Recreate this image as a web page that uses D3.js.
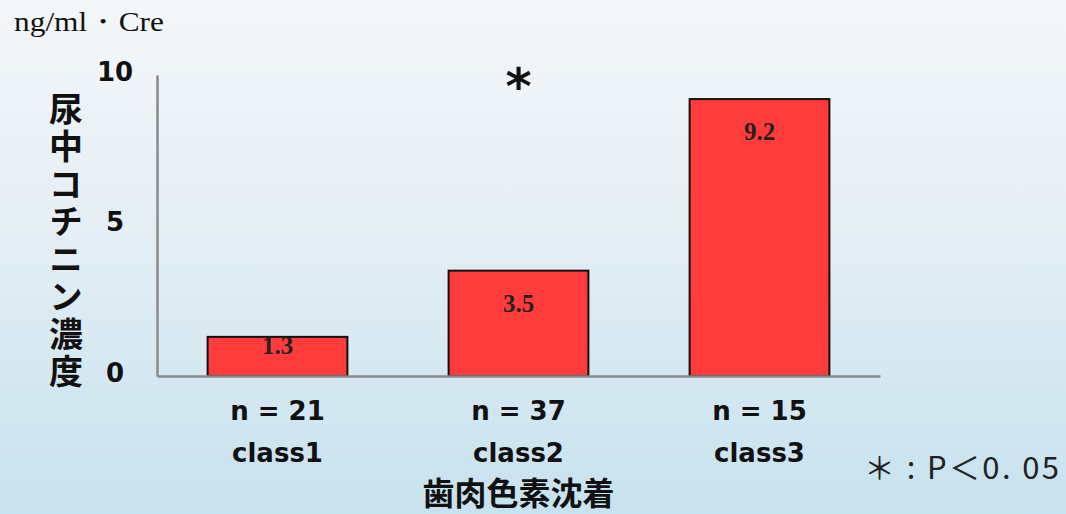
<!DOCTYPE html>
<html>
<head>
<meta charset="utf-8">
<script src="https://cdn.jsdelivr.net/npm/d3@7"></script>
<style>
  html, body { margin: 0; padding: 0; }
  body { width: 1066px; height: 514px; overflow: hidden; }
</style>
</head>
<body>
<div id="chart"></div>
<script>
const width = 1066;
const height = 514;

// data
const categories = ["class1", "class2", "class3"];
const sampleSizes = ["n = 21", "n = 37", "n = 15"];
const values = [1.3, 3.5, 9.2];
const valueLabels = ["1.3", "3.5", "9.2"];
const yTicks = [0, 5, 10];

const yTitle = "尿中コチニン濃度";
const xTitle = "歯肉色素沈着";
const unitLabel = "ng/ml・Cre";
const noteLabel = "＊ : P＜0. 05";

const margin = { top: 75, left: 157, bottom: 138, right: 186 };

const svg = d3.select("#chart").append("svg")
    .attr("width", width)
    .attr("height", height);

// background gradient
const grad = svg.append("defs").append("linearGradient")
    .attr("id", "bg")
    .attr("x1", 0).attr("y1", 0).attr("x2", 0).attr("y2", 1);
grad.append("stop").attr("offset", "0%").attr("stop-color", "#f4f7fa");
grad.append("stop").attr("offset", "45%").attr("stop-color", "#e4eef4");
grad.append("stop").attr("offset", "100%").attr("stop-color", "#c6e2ee");

svg.append("rect")
    .attr("width", width)
    .attr("height", height)
    .attr("fill", "url(#bg)");

const xScale = d3.scaleBand()
    .domain(categories)
    .range([margin.left, width - margin.right])
    .paddingInner(0.42)
    .paddingOuter(0.21);

const yScale = d3.scaleLinear()
    .domain([0, 10])
    .range([height - margin.bottom, margin.top]);

const numFont = "'DejaVu Sans', sans-serif";
const cjkFont = "'Noto Sans CJK JP', sans-serif";
const serifFont = "'Liberation Serif', 'DejaVu Serif', serif";

// bars
svg.selectAll("rect.bar")
    .data(values)
    .join("rect")
    .attr("class", "bar")
    .attr("x", (d, i) => xScale(categories[i]))
    .attr("y", d => yScale(d))
    .attr("width", xScale.bandwidth())
    .attr("height", d => yScale(0) - yScale(d))
    .attr("fill", "#ff3b3b")
    .attr("stroke", "#111")
    .attr("stroke-width", 2);

// value labels
svg.selectAll("text.val")
    .data(values)
    .join("text")
    .attr("class", "val")
    .attr("x", (d, i) => xScale(categories[i]) + xScale.bandwidth() / 2)
    .attr("y", d => Math.min(yScale(d) + 41, yScale(0) - 22))
    .attr("text-anchor", "middle")
    .attr("font-family", serifFont)
    .attr("font-weight", "bold")
    .attr("font-size", 25)
    .attr("fill", "#222")
    .text((d, i) => valueLabels[i]);

// y axis
const yAxis = d3.axisLeft(yScale).tickValues(yTicks).tickSize(0).tickPadding(34);
const gy = svg.append("g")
    .attr("transform", `translate(${margin.left},0)`)
    .call(yAxis);
gy.select(".domain").attr("stroke", "#8a8a8a").attr("stroke-width", 2.5);
gy.selectAll("text")
    .attr("font-family", numFont)
    .attr("font-weight", "bold")
    .attr("font-size", 26)
    .attr("fill", "#111")
    .attr("text-anchor", "middle")
    .attr("dx", -8)
    .attr("dy", "0.2em");

// x axis
const xAxis = d3.axisBottom(xScale).tickSize(0).tickFormat(() => "");
const gx = svg.append("g")
    .attr("transform", `translate(0,${yScale(0)})`)
    .call(xAxis);
gx.select(".domain").attr("stroke", "#8a8a8a").attr("stroke-width", 2.5);

// category labels
svg.selectAll("text.n")
    .data(sampleSizes)
    .join("text")
    .attr("class", "n")
    .attr("x", (d, i) => xScale(categories[i]) + xScale.bandwidth() / 2)
    .attr("y", 420)
    .attr("text-anchor", "middle")
    .attr("font-family", numFont)
    .attr("font-weight", "bold")
    .attr("font-size", 26)
    .attr("fill", "#111")
    .text(d => d);

svg.selectAll("text.cat")
    .data(categories)
    .join("text")
    .attr("class", "cat")
    .attr("x", d => xScale(d) + xScale.bandwidth() / 2)
    .attr("y", 462)
    .attr("text-anchor", "middle")
    .attr("font-family", numFont)
    .attr("font-weight", "bold")
    .attr("font-size", 26)
    .attr("fill", "#111")
    .text(d => d);

// x title
svg.append("text")
    .attr("x", xScale("class2") + xScale.bandwidth() / 2)
    .attr("y", 505)
    .attr("text-anchor", "middle")
    .attr("font-family", cjkFont)
    .attr("font-weight", "bold")
    .attr("font-size", 32)
    .attr("fill", "#111")
    .text(xTitle);

// y title, vertical writing
svg.append("text")
    .attr("x", 66)
    .attr("y", 92)
    .style("writing-mode", "vertical-rl")
    .attr("font-family", cjkFont)
    .attr("font-weight", "bold")
    .attr("font-size", 34)
    .attr("letter-spacing", 3.5)
    .attr("fill", "#111")
    .text(yTitle);

// unit
svg.append("text")
    .attr("x", 14)
    .attr("y", 31)
    .attr("font-family", serifFont)
    .attr("font-size", 28)
    .attr("textLength", 150)
    .attr("lengthAdjust", "spacingAndGlyphs")
    .attr("fill", "#111")
    .text(unitLabel);

// significance mark
svg.append("text")
    .attr("x", xScale("class2") + xScale.bandwidth() / 2)
    .attr("y", 104)
    .attr("text-anchor", "middle")
    .attr("font-family", "'DejaVu Sans', sans-serif")
    .attr("font-weight", "bold")
    .attr("font-size", 50)
    .attr("fill", "#111")
    .text("*");

// note
svg.append("text")
    .attr("x", 864)
    .attr("y", 479)
    .attr("font-family", "'Noto Sans CJK JP', serif")
    .attr("font-size", 31)
    .attr("textLength", 195)
    .attr("lengthAdjust", "spacing")
    .attr("fill", "#222")
    .text(noteLabel);
</script>
</body>
</html>
